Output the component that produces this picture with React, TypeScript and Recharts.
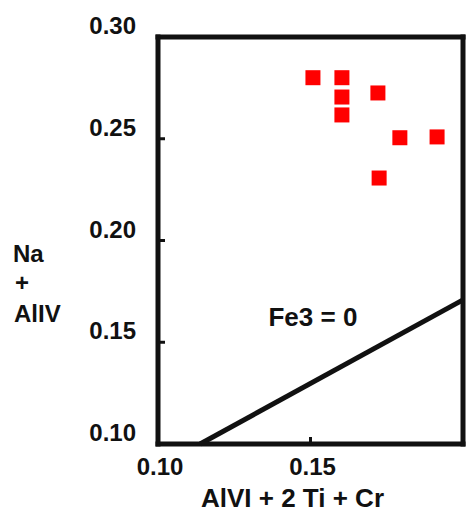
import React from 'react';
import {
  ScatterChart,
  Scatter,
  XAxis,
  YAxis,
  ReferenceLine,
  ReferenceDot,
  Label,
} from 'recharts';

// Data points: AlVI + 2 Ti + Cr (x) vs Na + AlIV (y)
const xValues = [0.1508, 0.1603, 0.1603, 0.1603, 0.1721, 0.1793, 0.1915, 0.1725];
const yValues = [0.28, 0.28, 0.2705, 0.2617, 0.2725, 0.2505, 0.2509, 0.2307];

// Fe3 = 0 line
const lineX = [0.1138, 0.2];
const lineY = [0.1, 0.1708];

// Axis ticks
const xTicks = [0.1, 0.15];
const yTicks = [0.1, 0.15, 0.2, 0.25, 0.3];
const xTickLabels = ['0.10', '0.15'];
const yTickLabels = ['0.10', '0.15', '0.20', '0.25', '0.30'];

// Frame extents
const xDomain = [0.1, 0.2];
const yDomain = [0.1, 0.3];

const xTitle = 'AlVI + 2 Ti + Cr';
const yTitleLines = ['Na', '+', 'AlIV'];
const annotationText = 'Fe3 = 0';
const annotationX = 0.1508;
const annotationY = 0.1624;

const points = xValues.map((x, i) => ({ x, y: yValues[i] }));
const frameCorners = [
  { x: xDomain[0], y: yDomain[0] },
  { x: xDomain[1], y: yDomain[1] },
];

const FONT = '"Liberation Sans", Arial, sans-serif';
const INK = '#111';

const frameLine = { stroke: INK, strokeWidth: 5, strokeLinecap: 'square' as const };

const YTick = (props: any) => {
  const { x, y, payload } = props;
  const idx = yTicks.indexOf(payload.value);
  const label = idx >= 0 ? yTickLabels[idx] : String(payload.value);
  const inner = payload.value > 0.1 && payload.value < 0.3;
  return (
    <g>
      {inner && <line x1={x + 2} x2={x + 7} y1={y} y2={y} stroke={INK} strokeWidth={3} />}
      <text x={x - 22} y={y - 3} textAnchor="end" fontFamily={FONT} fontWeight="bold" fontSize={24} fill={INK}>
        {label}
      </text>
    </g>
  );
};

const XTick = (props: any) => {
  const { x, y, payload } = props;
  const idx = xTicks.indexOf(payload.value);
  const label = idx >= 0 ? xTickLabels[idx] : String(payload.value);
  const inner = payload.value > 0.1;
  return (
    <g>
      {inner && <line x1={x} x2={x} y1={y - 2} y2={y - 7} stroke={INK} strokeWidth={3} />}
      <text x={x + 2} y={y + 31} textAnchor="middle" fontFamily={FONT} fontWeight="bold" fontSize={24} fill={INK}>
        {label}
      </text>
    </g>
  );
};

const SquareShape = (props: any) => {
  const { cx, cy } = props;
  return <rect x={cx - 7.5} y={cy - 7.5} width={15} height={15} fill="#ff0000" />;
};

const NoShape = () => <g />;

export default function App() {
  return (
    <div style={{ position: 'absolute', left: 0, top: 0, width: 466, height: 512, background: '#fff' }}>
      <ScatterChart width={466} height={512} margin={{ top: 36, right: 2, bottom: 0, left: 0 }}>
        <XAxis
          xAxisId="main"
          type="number"
          dataKey="x"
          domain={xDomain}
          ticks={xTicks}
          height={68}
          axisLine={frameLine}
          tickLine={false}
          tickSize={0}
          tickMargin={0}
          tick={<XTick />}
        >
          <Label
            content={(p: any) => {
              const vb = p.viewBox || {};
              return (
                <text
                  x={vb.x + vb.width / 2 - 18}
                  y={vb.y + 63}
                  textAnchor="middle"
                  fontFamily={FONT}
                  fontWeight="bold"
                  fontSize={26}
                  fill={INK}
                >
                  {xTitle}
                </text>
              );
            }}
          />
        </XAxis>
        <XAxis
          xAxisId="top"
          orientation="top"
          type="number"
          dataKey="x"
          domain={xDomain}
          height={1}
          axisLine={frameLine}
          tickLine={false}
          tick={false}
        />
        <YAxis
          yAxisId="main"
          type="number"
          dataKey="y"
          domain={yDomain}
          ticks={yTicks}
          width={158}
          axisLine={frameLine}
          tickLine={false}
          tickSize={0}
          tickMargin={0}
          tick={<YTick />}
        >
          <Label
            content={() => (
              <text fontFamily={FONT} fontWeight="bold" fontSize={24} fill={INK}>
                <tspan x={13} y={262}>{yTitleLines[0]}</tspan>
                <tspan x={15} y={291}>{yTitleLines[1]}</tspan>
                <tspan x={14} y={322}>{yTitleLines[2]}</tspan>
              </text>
            )}
          />
        </YAxis>
        <YAxis
          yAxisId="right"
          orientation="right"
          type="number"
          dataKey="y"
          domain={yDomain}
          width={1}
          axisLine={frameLine}
          tickLine={false}
          tick={false}
        />
        <Scatter
          xAxisId="top"
          yAxisId="right"
          data={frameCorners}
          shape={<NoShape />}
          isAnimationActive={false}
        />
        <ReferenceLine
          xAxisId="main"
          yAxisId="main"
          segment={[
            { x: lineX[0], y: lineY[0] },
            { x: lineX[1], y: lineY[1] },
          ]}
          stroke={INK}
          strokeWidth={5}
          ifOverflow="visible"
        />
        <ReferenceDot
          xAxisId="main"
          yAxisId="main"
          x={annotationX}
          y={annotationY}
          r={0}
          fill="none"
          stroke="none"
          ifOverflow="visible"
          label={{
            value: annotationText,
            position: 'center',
            fontFamily: FONT,
            fontWeight: 'bold',
            fontSize: 26,
            fill: INK,
          }}
        />
        <Scatter
          xAxisId="main"
          yAxisId="main"
          data={points}
          shape={<SquareShape />}
          isAnimationActive={false}
        />
      </ScatterChart>
    </div>
  );
}
